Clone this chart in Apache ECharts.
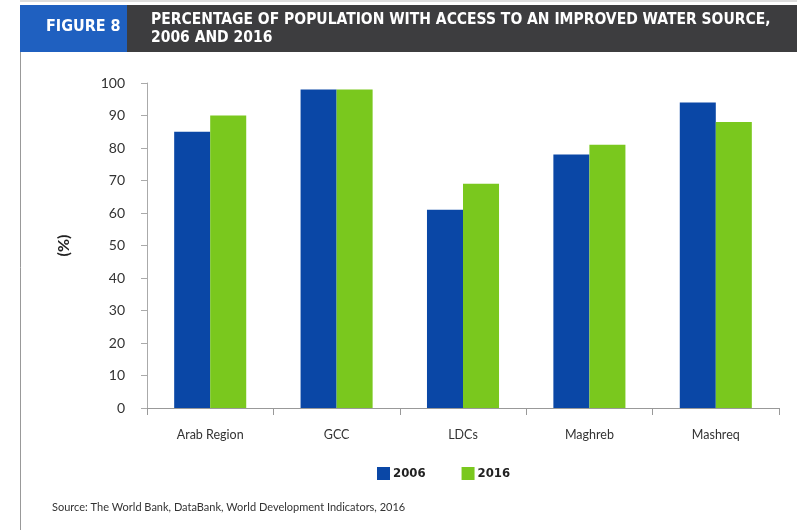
<!DOCTYPE html>
<html><head><meta charset="utf-8">
<script src="https://cdn.jsdelivr.net/npm/echarts@6/dist/echarts.min.js"></script>
<style>html,body{margin:0;padding:0;background:#fff}#c{width:797px;height:530px}</style>
</head><body><div id="c"></div>
<script>
const categories = ['Arab Region', 'GCC', 'LDCs', 'Maghreb', 'Mashreq'];
const values2006 = [85, 98, 61, 78, 94];
const values2016 = [90, 98, 69, 81, 88];
const yTicks = [0, 10, 20, 30, 40, 50, 60, 70, 80, 90, 100];

const chart = echarts.init(document.getElementById('c'), null, {renderer: 'canvas'});
const font = 'Lato, "Open Sans", sans-serif';
const condensed = '"Liberation Sans Narrow", "DejaVu Sans Condensed", "Roboto", sans-serif';
chart.setOption({
  animation: false,
  backgroundColor: '#fff',
  grid: {left: 147, right: 18, top: 83, bottom: 122, containLabel: false},
  legend: {
    top: 462, left: 372, itemWidth: 13, itemHeight: 13, itemGap: 36,
    icon: 'rect',
    textStyle: {fontFamily: condensed, fontWeight: 'bold', fontSize: 13, color: '#222', padding: [0,0,0,-2]},
    data: ['2006', '2016']
  },
  xAxis: {
    type: 'category', data: categories,
    axisLine: {lineStyle: {color: '#999', width: 1}},
    axisTick: {show: true, length: 7, lineStyle: {color: '#999'}},
    axisLabel: {fontFamily: font, fontSize: 12.5, color: '#333', margin: 20}
  },
  yAxis: {
    type: 'value', min: 0, max: 100, interval: 10,
    name: '(%)', nameLocation: 'middle', nameGap: 75, nameRotate: 90,
    nameTextStyle: {fontFamily: font, fontWeight: 'bold', fontSize: 16, color: '#222'},
    axisLine: {show: true, lineStyle: {color: '#aaa'}},
    axisTick: {show: true, length: 6, lineStyle: {color: '#aaa'}},
    splitLine: {show: false},
    axisLabel: {fontFamily: font, fontSize: 14, color: '#333', margin: 22,
      formatter: v => yTicks.includes(v) ? String(v) : ''}
  },
  series: [
    {name: '2006', type: 'bar', data: values2006, barGap: '0%', barCategoryGap: '43%',
     itemStyle: {color: '#0a47a6'}},
    {name: '2016', type: 'bar', data: values2016, barGap: '0%', barCategoryGap: '43%',
     itemStyle: {color: '#7ac81e'}}
  ],
  graphic: [
    {type: 'line', shape: {x1: 20, y1: 1, x2: 797, y2: 1}, style: {stroke: '#ddd', lineWidth: 2}},
    {type: 'line', shape: {x1: 20.5, y1: 5, x2: 20.5, y2: 530}, style: {stroke: '#999', lineWidth: 1}},
    {type: 'rect', shape: {x: 127, y: 5, width: 670, height: 47}, style: {fill: '#3d3d3f'}},
    {type: 'rect', shape: {x: 20, y: 5, width: 107, height: 47}, style: {fill: '#1f60c0'}},
    {type: 'text', left: 46, top: 19, style: {text: 'FIGURE 8', fill: '#fff', font: 'bold 16px ' + condensed}},
    {type: 'text', left: 151, top: 11, style: {text: 'PERCENTAGE OF POPULATION WITH ACCESS TO AN IMPROVED WATER SOURCE,\n2006 AND 2016', fill: '#fff', font: 'bold 15.5px ' + condensed, lineHeight: 18}},
    {type: 'text', left: 52, top: 502, style: {text: 'Source: The World Bank, DataBank, World Development Indicators, 2016', fill: '#333', font: '11px ' + font}}
  ]
});
</script></body></html>
